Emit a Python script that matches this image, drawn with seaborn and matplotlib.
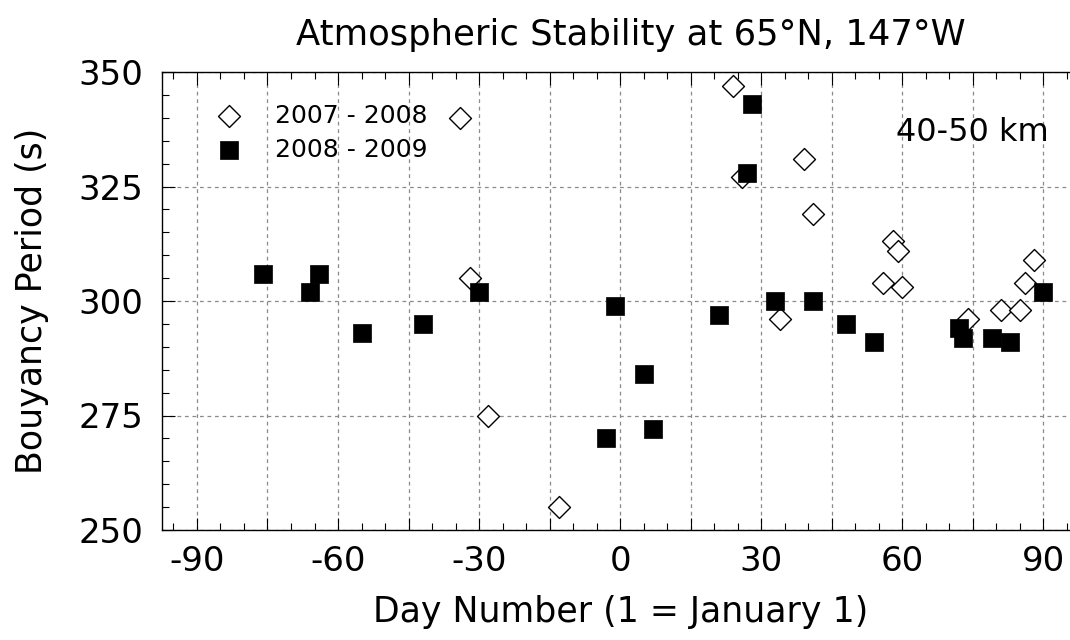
import matplotlib
matplotlib.use("Agg")
import matplotlib.pyplot as plt
import seaborn as sns
import pandas as pd
from matplotlib.ticker import MultipleLocator, FuncFormatter

# ---- data ----
days_0708 = [-34, -32, -28, -13, 24, 26, 34, 39, 41, 56, 58, 59, 60, 74, 81, 85, 86, 88]
period_0708 = [340, 305, 275, 255, 347, 327, 296, 331, 319, 304, 313, 311, 303, 296, 298, 298, 304, 309]

days_0809 = [-76, -66, -64, -55, -42, -30, -3, -1, 5, 7, 21, 27, 28, 33, 41, 48, 54, 72, 73, 79, 83, 90]
period_0809 = [306, 302, 306, 293, 295, 302, 270, 299, 284, 272, 297, 328, 343, 300, 300, 295, 291, 294, 292, 292, 291, 302]

series_labels = ["2007 - 2008", "2008 - 2009"]
title = "Atmospheric Stability at 65°N, 147°W"
xlabel = "Day Number (1 = January 1)"
ylabel = "Bouyancy Period (s)"
annotation = "40-50 km"

sns.set_style("ticks")
plt.rcParams["font.family"] = ["DejaVu Sans"]
plt.rcParams.update({"text.color": "black", "axes.labelcolor": "black",
                     "xtick.color": "black", "ytick.color": "black",
                     "axes.edgecolor": "black"})

df1 = pd.DataFrame({"day": days_0708, "period": period_0708})
df2 = pd.DataFrame({"day": days_0809, "period": period_0809})

fig = plt.figure(figsize=(10.7, 6.4), dpi=100)
W, H = 1070.0, 640.0
left_px, right_px, top_px, bot_px = 161.7, 1078.6, 72.0, 530.0
ax = fig.add_axes([left_px / W, 1 - bot_px / H, (right_px - left_px) / W, (bot_px - top_px) / H])

sns.scatterplot(data=df1, x="day", y="period", marker="D", s=125, color="white",
                edgecolor="black", linewidth=1.0, label=series_labels[0], ax=ax, zorder=3)
sns.scatterplot(data=df2, x="day", y="period", marker="s", s=180, color="black",
                edgecolor="black", linewidth=0.5, label=series_labels[1], ax=ax, zorder=4)

ax.set_xlim(-97.5, 97.5)
ax.set_ylim(250, 350)

ax.xaxis.set_major_locator(MultipleLocator(15))
ax.xaxis.set_minor_locator(MultipleLocator(5))
ax.xaxis.set_major_formatter(FuncFormatter(lambda v, p: f"{int(round(v))}" if int(round(v)) % 30 == 0 else ""))
ax.yaxis.set_major_locator(MultipleLocator(25))
ax.yaxis.set_minor_locator(MultipleLocator(5))

ax.grid(True, which="major", color="#8a8a8a", linestyle=(0, (3, 3)), linewidth=0.9, zorder=0)
ax.set_axisbelow(True)

ax.tick_params(which="both", direction="in", top=True, right=False, width=0.8, colors="black")
ax.tick_params(which="major", length=9, labelsize=24.5)
ax.tick_params(which="minor", length=5)
ax.tick_params(axis="x", which="major", pad=11)
ax.tick_params(axis="y", which="major", pad=13)

for sp in ax.spines.values():
    sp.set_color("black")
    sp.set_linewidth(1.0)
ax.spines["right"].set_visible(False)

ax.set_xlabel(xlabel, fontsize=25)
ax.set_ylabel(ylabel, fontsize=25)
ax.xaxis.set_label_coords(0.5, -0.143)
ax.yaxis.set_label_coords(-0.123, 0.5)

fig.text(631 / W, 1 - 45 / H, title, ha="center", va="baseline", fontsize=25.5)

ax.text(0.967, 0.850, annotation, transform=ax.transAxes, ha="right", va="baseline", fontsize=23)

leg = ax.legend(loc="upper left", bbox_to_anchor=(0.0465, 0.93), frameon=False, fontsize=18,
                handlelength=2.0, handletextpad=0.83, borderpad=0, borderaxespad=0,
                labelspacing=0.4, scatterpoints=1)

fig.savefig("out.png", dpi=100)
